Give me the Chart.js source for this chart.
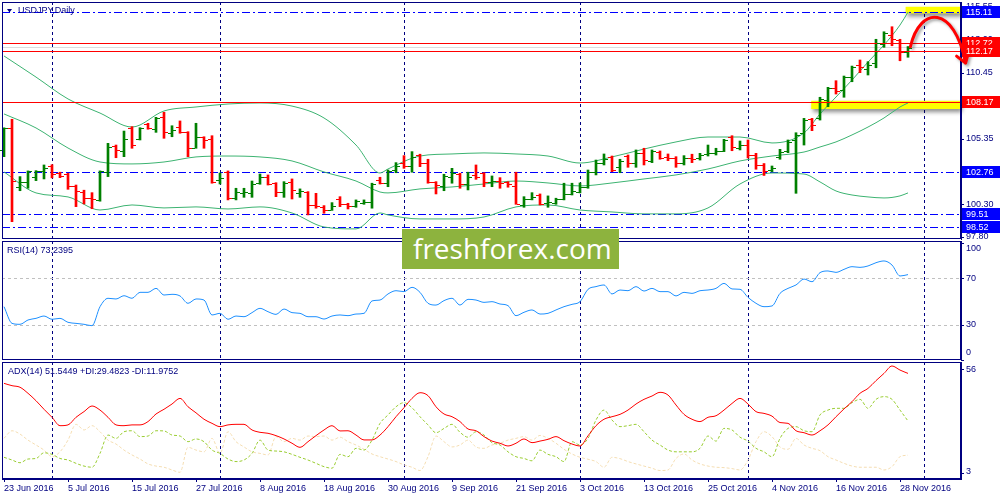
<html>
<head>
<meta charset="utf-8">
<script src="https://cdn.jsdelivr.net/npm/chart.js@4.4.1/dist/chart.umd.min.js"></script>
<style>
  html, body { margin: 0; padding: 0; background: #fff; }
  #wrap { position: relative; width: 1000px; height: 500px; overflow: hidden; }
  #wrap canvas { position: absolute; left: 0; }
  #logo { position: absolute; left: 402px; top: 229px; width: 217px; height: 40px; background: #8db33e;
          color: #fff; font: 28px "Open Sans", sans-serif; line-height: 38px; padding-left: 11px; box-sizing: border-box; }
</style>
</head>
<body>
<div id="wrap">
  <canvas id="price" width="1000" height="240" style="top:0"></canvas>
  <canvas id="rsi" width="1000" height="122" style="top:240px"></canvas>
  <canvas id="adx" width="1000" height="139" style="top:361px"></canvas>
  <div id="logo">freshforex.com</div>
</div>
<script>
// daily bars 23 Jun 2016 .. 29 Nov 2016, x = bar number
const labelIdx = [0, 8, 16, 24, 32, 40, 48, 56, 64, 72, 80, 88, 96, 104, 112];
const dateLabels = ['23 Jun 2016', '5 Jul 2016', '15 Jul 2016', '27 Jul 2016', '8 Aug 2016', '18 Aug 2016',
  '30 Aug 2016', '9 Sep 2016', '21 Sep 2016', '3 Oct 2016', '13 Oct 2016', '25 Oct 2016', '4 Nov 2016',
  '16 Nov 2016', '28 Nov 2016'];
const monthStarts = [6, 27, 50, 72, 93, 115];

const opens = [104.49,106.16,101.61,102.04,102.43,102.87,103.28,102.71,102.63,101.73,
  101.27,100.78,100.60,102.79,104.80,104.43,106.21,105.31,106.50,106.11,
  107.01,105.82,106.29,105.85,104.66,105.47,105.31,102.17,102.81,100.78,
  101.19,101.14,101.92,102.43,101.92,101.22,101.99,101.14,101.22,100.22,
  100.11,99.85,100.68,100.29,100.16,100.37,100.50,102.17,101.92,102.94,
  103.46,103.28,104.10,103.46,101.99,101.73,102.43,102.61,101.84,102.56,
  102.69,101.99,102.09,101.99,101.71,100.24,100.68,101.01,100.37,100.37,
  100.68,101.07,101.27,101.61,102.81,103.51,103.97,103.20,104.02,103.51,
  104.23,103.66,104.36,103.97,103.89,103.51,103.85,103.85,104.16,104.23,
  104.43,105.47,104.64,104.87,104.10,103.33,102.94,103.97,104.43,105.26,
  105.78,106.86,106.93,108.35,109.25,109.12,110.15,111.05,110.74,111.23,
  112.67,113.37,112.98,112.03];
const highs = [106.20,106.86,102.43,102.87,102.89,103.33,103.35,102.77,102.69,101.78,
  101.38,101.19,102.87,105.00,104.87,105.95,106.29,106.21,106.55,107.01,
  107.40,106.36,106.73,105.90,106.55,105.51,105.59,102.71,102.87,101.53,
  101.53,102.09,102.63,102.56,101.96,102.04,102.25,101.48,101.27,101.14,
  100.19,100.42,100.88,100.37,100.63,100.63,101.92,102.38,102.94,103.51,
  104.05,104.36,104.16,103.77,102.04,102.61,103.07,102.69,102.77,103.33,
  102.73,102.48,102.35,102.04,102.77,100.88,101.19,101.09,100.94,100.76,
  101.92,101.92,101.94,102.94,103.71,104.18,104.02,103.77,104.10,104.49,
  104.62,104.49,104.41,104.18,103.97,104.05,104.16,104.23,104.87,104.62,
  105.31,105.59,105.18,105.26,104.23,103.44,103.25,104.54,105.26,105.82,
  106.93,106.93,108.56,109.33,109.84,110.20,110.97,111.44,111.31,113.04,
  113.62,114.01,113.04,112.48];
const lows = [103.97,98.95,101.34,101.53,102.12,102.25,102.33,102.35,101.45,100.11,
  100.32,99.95,100.53,102.43,103.89,103.97,104.62,105.26,106.09,105.85,
  105.39,105.51,105.78,103.97,104.62,104.62,101.92,101.86,100.63,100.63,
  100.83,100.83,101.84,101.78,100.88,100.83,100.70,100.83,99.47,99.99,
  99.60,99.82,100.11,99.93,100.06,100.29,99.99,101.86,101.65,102.73,
  103.07,102.77,103.20,101.92,101.09,101.34,101.92,101.53,101.40,102.22,
  101.65,101.65,101.53,101.61,100.29,100.06,100.63,100.24,100.06,100.29,
  100.63,101.01,101.17,101.53,102.56,103.33,102.81,102.73,103.15,103.15,
  103.33,103.51,103.77,103.66,103.15,103.33,103.51,103.71,104.02,104.10,
  104.36,104.43,104.49,103.87,103.00,102.52,102.81,103.77,104.28,101.14,
  104.87,105.98,106.80,107.83,108.81,108.56,109.76,110.46,110.28,110.84,
  112.42,112.54,111.38,111.65];
const closes = [106.16,102.12,102.04,102.87,102.87,103.12,102.63,102.48,101.68,101.30,
  100.76,100.73,102.84,104.74,104.49,105.31,104.85,106.16,106.16,106.93,
  105.85,106.03,105.85,104.66,105.47,105.26,102.04,102.33,100.80,101.24,
  101.24,101.84,102.38,101.84,101.22,101.96,101.40,101.32,100.24,100.16,
  99.85,100.19,100.29,100.16,100.55,100.50,101.86,101.96,102.89,103.28,
  103.28,103.97,103.46,101.99,101.78,102.50,102.69,101.84,102.43,102.43,
  101.99,102.12,101.92,101.84,100.32,100.70,100.88,100.29,100.45,100.68,
  101.07,101.32,101.63,102.81,103.51,103.79,102.94,103.64,103.51,104.23,
  103.71,104.41,103.85,103.85,103.46,103.85,103.79,104.10,104.23,104.43,
  105.26,104.70,104.87,104.10,103.33,102.90,103.07,104.36,105.13,105.65,
  106.80,106.42,108.40,109.25,109.07,110.10,110.92,110.92,111.05,112.73,
  113.50,113.06,112.03,112.40];

// Bollinger bands read at these bars
const bandIdx = [0,4,8,12,16,20,24,28,32,36,40,44,47,48,52,56,60,64,68,72,76,80,84,88,92,96,100,102,104,106,108,110,112,113];
const bandUpper = [111.75,110.12,108.43,107.34,106.26,107.50,107.81,108.04,108.12,107.88,106.96,104.87,102.71,103.02,104.02,104.18,104.26,
  104.18,104.02,103.48,103.95,104.56,105.11,105.49,105.49,105.03,105.80,107.27,108.58,109.89,111.28,112.60,114.14,115.14];
const bandMiddle = [107.27,106.19,104.64,103.56,103.41,103.56,103.95,104.02,103.95,103.64,102.79,102.09,101.24,101.17,101.48,101.63,101.86,
  102.09,101.94,101.71,101.94,102.25,102.56,103.02,103.64,104.02,104.33,104.72,105.11,105.65,106.26,106.96,107.81,108.12];
const bandLower = [102.79,101.17,100.86,99.85,100.24,100.01,100.09,99.93,100.09,99.62,98.54,98.39,99.62,99.47,99.16,99.16,99.31,
  100.09,100.24,99.85,99.70,99.55,99.55,100.01,101.86,102.71,102.63,102.02,101.32,101.01,100.86,100.78,100.94,101.17];

const blueLevels = [115.11, 102.76, 99.51, 98.52];
const redLevels = [112.72, 112.17, 108.17];
const bidPrice = 112.44;
const priceTicks = [97.80, 100.30, 102.85, 105.35, 107.90, 110.45, 113.00, 115.55];
// highlighted zones: bar from/to, price top/bottom
const zoneFrom = [100.9, 112.7];
const zoneTo = [120, 120];
const zoneTop = [108.29, 115.55];
const zoneBottom = [107.65, 115.04];
// hand drawn arrow: start, two control points, end (bar, price)
const arrowBars = [113.3, 114.5, 118.8, 120.2];
const arrowPrices = [112.46, 115.68, 115.68, 111.20];

const rsi = [45.7,31.4,30.6,34.3,35.7,37.7,34.9,35.7,32.3,31.4,
  30.6,29.4,45.7,52.9,52.3,55.1,52.9,58.0,58.0,61.4,
  55.7,56.3,54.9,48.6,52.3,51.4,38.6,40.0,34.9,37.7,
  37.1,40.6,44.3,41.4,39.1,43.7,40.6,40.0,37.1,37.1,
  35.1,37.7,38.6,38.0,39.4,40.0,50.6,51.4,56.6,59.4,
  58.6,62.3,58.0,48.6,47.1,50.9,52.9,47.1,52.0,51.4,
  49.4,50.0,48.0,46.6,38.0,40.9,42.9,39.4,40.0,42.9,
  45.7,47.7,50.0,60.6,62.9,64.3,56.6,60.0,59.4,62.9,
  59.1,61.4,58.6,58.6,54.9,58.0,57.1,59.4,60.0,61.4,
  65.7,60.9,60.6,53.7,48.6,45.7,46.3,57.1,61.4,64.3,
  69.4,67.1,74.9,76.3,75.1,77.7,80.0,79.4,80.6,83.4,
  84.9,81.4,72.0,73.2];
const rsiTicks = [100, 70, 30, 0];
const rsiLevels = [70, 30];

const adx = [48.8,47.6,46.8,43.7,39.9,35.5,31.4,27.1,27.5,31.4,
  34.3,37.2,35.1,31.4,27.5,27.1,27.5,27.5,29.2,33.1,
  35.5,38.2,41.1,36.8,33.7,30.4,28.3,26.6,27.5,27.8,
  27.8,24.9,23.7,23.2,22.0,20.3,18.1,16.0,18.9,22.0,
  24.9,27.1,24.4,24.5,22.3,19.8,19.8,22.3,26.6,31.7,
  36.3,41.1,44.0,42.5,36.8,33.1,31.7,29.2,25.4,24.5,
  21.5,19.2,18.1,16.7,18.1,20.3,18.4,19.2,20.1,21.5,
  19.4,17.7,16.7,21.9,27.1,30.4,31.7,32.9,35.1,38.2,
  40.6,42.3,44.2,42.8,37.7,32.9,30.4,29.2,31.4,32.2,
  35.1,38.5,41.1,38.2,34.3,33.4,32.0,28.7,28.3,24.5,
  23.5,22.3,24.5,27.5,31.7,35.7,39.4,43.7,46.2,50.2,
  53.9,57.7,55.6,53.9];
const plusDI = [10.9,9.5,8.1,10.0,10.3,13.2,12.4,10.3,9.5,7.8,
  6.4,5.8,12.9,22.3,20.6,24.0,24.5,21.5,21.8,24.5,
  24.4,22.3,21.8,18.9,20.3,18.9,14.6,12.9,10.0,8.7,
  9.5,12.9,19.7,14.6,14.1,13.7,12.4,10.9,9.5,7.8,
  6.1,5.3,12.4,11.2,15.5,14.6,19.7,28.3,32.6,36.8,
  38.9,36.3,31.7,27.5,23.5,25.7,27.8,23.7,21.2,24.0,
  22.3,18.4,17.2,13.7,11.2,10.3,9.1,14.6,12.4,11.2,
  8.7,18.9,17.2,20.6,30.0,35.1,30.0,26.6,27.1,27.8,
  24.0,19.7,17.2,14.6,13.7,13.7,13.7,15.5,21.8,19.2,
  25.7,24.9,21.2,19.2,15.5,13.7,11.2,20.6,25.7,26.6,
  24.5,24.0,32.6,35.1,36.0,36.0,38.9,40.6,36.0,40.6,
  42.0,40.6,35.1,29.5];
const minusDI = [20.6,24.5,22.8,19.7,17.2,14.6,11.2,13.7,19.7,27.8,
  24.9,27.1,24.0,19.7,17.7,14.6,12.1,10.0,7.5,6.4,
  5.8,4.4,3.2,16.0,14.6,13.7,20.6,12.9,24.0,18.9,
  16.2,13.7,12.9,12.1,21.5,18.9,20.6,19.7,21.8,21.5,
  21.8,19.7,21.2,18.9,17.2,15.0,12.6,11.2,10.0,8.7,
  7.0,5.8,4.1,11.2,21.8,18.9,16.2,17.2,19.7,16.2,
  15.5,17.2,18.1,19.7,20.6,21.5,19.7,22.1,20.6,18.1,
  15.0,12.6,10.9,9.9,8.7,5.8,10.9,10.2,8.7,7.5,
  6.4,5.3,4.1,4.4,10.3,12.6,9.5,7.5,6.4,5.8,
  5.6,5.1,4.4,9.5,18.9,24.0,21.5,16.2,15.0,20.6,
  17.2,15.5,14.3,11.2,9.5,7.8,6.4,5.8,5.8,5.8,
  4.4,6.1,11.2,12.0];
const adxTicks = [56, 3];

const NAVY = '#000080';
const UP = '#008000';
const DOWN = '#FF0000';
const BAND = '#3CB371';
const FONT = '9px "Liberation Sans", Arial, sans-serif';
const XMIN = -0.25, XMAX = 119.625;

const bars = closes.map((_, i) => i);

function vDashed(chart, idx) {
  const { ctx, chartArea: a, scales: { x } } = chart;
  ctx.save();
  ctx.strokeStyle = NAVY;
  ctx.lineWidth = 1;
  ctx.setLineDash([3, 3]);
  idx.forEach(v => {
    const px = Math.round(x.getPixelForValue(v)) + 0.5;
    ctx.beginPath();
    ctx.moveTo(px, a.top);
    ctx.lineTo(px, a.bottom);
    ctx.stroke();
  });
  ctx.restore();
}

// solid lines are filled as 1px rows, dashed ones stroked
function hLine(chart, value, color, dash) {
  const { ctx, chartArea: a, scales: { y } } = chart;
  const row = Math.round(y.getPixelForValue(value));
  ctx.save();
  if (!dash.length) {
    ctx.fillStyle = color;
    ctx.fillRect(a.left, row, a.right - a.left, 1);
  } else {
    ctx.strokeStyle = color;
    ctx.lineWidth = 1;
    ctx.setLineDash(dash);
    ctx.beginPath();
    ctx.moveTo(a.left, row + 0.5);
    ctx.lineTo(a.right, row + 0.5);
    ctx.stroke();
  }
  ctx.restore();
}

function frame(chart) {
  const { ctx, chartArea: a } = chart;
  ctx.save();
  ctx.strokeStyle = NAVY;
  ctx.lineWidth = 1;
  ctx.strokeRect(a.left + 0.5, a.top + 0.5, a.right - a.left - 1, a.bottom - a.top - 1);
  ctx.restore();
}

function title(chart, text, px, py) {
  const { ctx } = chart;
  ctx.save();
  ctx.font = FONT;
  ctx.fillStyle = NAVY;
  ctx.textBaseline = 'middle';
  ctx.fillText(text, px, py);
  ctx.restore();
}

// right axis labels; indicator windows keep them inside the panel
function sideLabels(chart, values, fmt, keepInside) {
  const { ctx, chartArea: a, scales: { y } } = chart;
  ctx.save();
  ctx.font = FONT;
  ctx.fillStyle = NAVY;
  ctx.textBaseline = 'middle';
  values.forEach(v => {
    const py = y.getPixelForValue(v);
    ctx.fillRect(a.right, Math.round(py), 3, 1);
    const ty = keepInside ? Math.min(Math.max(py, a.top + 8), a.bottom - 7) : py;
    ctx.fillText(fmt(v), a.right + 5, ty);
  });
  ctx.restore();
}

function boxLabel(chart, value, bg) {
  const { ctx, chartArea: a, scales: { y } } = chart;
  const py = Math.round(y.getPixelForValue(value));
  ctx.save();
  ctx.fillStyle = bg;
  ctx.fillRect(a.right + 1, py - 6, 39, 12);
  ctx.font = FONT;
  ctx.fillStyle = '#fff';
  ctx.textBaseline = 'middle';
  ctx.fillText(value.toFixed(2), a.right + 5, py + 0.5);
  ctx.restore();
}

const pricePlugin = {
  id: 'pricePlugin',
  beforeDatasetsDraw(chart) {
    const { ctx, chartArea: a, scales: { x, y } } = chart;
    vDashed(chart, monthStarts);
    zoneFrom.forEach((f, k) => {
      const x0 = x.getPixelForValue(f);
      const x1 = Math.min(a.right - 1, x.getPixelForValue(zoneTo[k]));
      const y0 = y.getPixelForValue(zoneTop[k]);
      const y1 = y.getPixelForValue(zoneBottom[k]);
      ctx.save();
      ctx.shadowColor = 'rgba(0,0,0,0.45)';
      ctx.shadowBlur = 4;
      ctx.shadowOffsetX = 2;
      ctx.shadowOffsetY = 3;
      ctx.fillStyle = '#FFFF00';
      ctx.fillRect(x0, y0, x1 - x0, y1 - y0);
      ctx.restore();
    });
    hLine(chart, bidPrice, '#DCDCDC', []);
    blueLevels.forEach(v => hLine(chart, v, '#0000FF', [8, 3, 2, 3]));
  },
  afterDatasetsDraw(chart) {
    const { ctx, scales: { x, y } } = chart;
    redLevels.forEach(v => hLine(chart, v, '#FF0000', []));
    ctx.save();
    bars.forEach(i => {
      const px = Math.round(x.getPixelForValue(i));
      ctx.fillStyle = closes[i] >= opens[i] ? UP : DOWN;
      ctx.fillRect(px - 4, Math.round(y.getPixelForValue(opens[i])), 3, 1);
      ctx.fillRect(px + 1, Math.round(y.getPixelForValue(closes[i])), 3, 1);
    });
    ctx.restore();
  },
  afterDraw(chart) {
    const { ctx, scales: { x, y } } = chart;
    frame(chart);
    sideLabels(chart, priceTicks, v => v.toFixed(2), false);
    // arrow
    const p = arrowBars.map((b, k) => [x.getPixelForValue(b), y.getPixelForValue(arrowPrices[k])]);
    ctx.save();
    ctx.shadowColor = 'rgba(0,0,0,0.35)';
    ctx.shadowBlur = 3;
    ctx.shadowOffsetX = 2;
    ctx.shadowOffsetY = 2;
    ctx.strokeStyle = '#FF0000';
    ctx.lineWidth = 3;
    ctx.lineCap = 'round';
    ctx.lineJoin = 'round';
    ctx.beginPath();
    ctx.moveTo(p[0][0], p[0][1]);
    ctx.bezierCurveTo(p[1][0], p[1][1], p[2][0], p[2][1], p[3][0], p[3][1]);
    ctx.moveTo(p[3][0] - 9, p[3][1] - 7);
    ctx.lineTo(p[3][0], p[3][1]);
    ctx.lineTo(p[3][0] + 3, p[3][1] - 11);
    ctx.stroke();
    ctx.restore();
    blueLevels.forEach(v => boxLabel(chart, v, '#0000FF'));
    redLevels.forEach(v => boxLabel(chart, v, '#FF0000'));
    // symbol caption
    ctx.save();
    ctx.fillStyle = NAVY;
    ctx.beginPath();
    ctx.moveTo(7, 9); ctx.lineTo(12, 9); ctx.lineTo(9.5, 12.5); ctx.closePath();
    ctx.fill();
    ctx.restore();
    title(chart, 'USDJPY,Daily', 18, 11);
  }
};

const rsiPlugin = {
  id: 'rsiPlugin',
  beforeDatasetsDraw(chart) {
    vDashed(chart, monthStarts);
    rsiLevels.forEach(v => hLine(chart, v, '#C0C0C0', [3, 3]));
  },
  afterDraw(chart) {
    frame(chart);
    sideLabels(chart, rsiTicks, v => String(v), true);
    title(chart, 'RSI(14) 73.2395', 7, chart.chartArea.top + 10);
  }
};

const adxPlugin = {
  id: 'adxPlugin',
  beforeDatasetsDraw(chart) {
    vDashed(chart, monthStarts);
  },
  afterDraw(chart) {
    frame(chart);
    sideLabels(chart, adxTicks, v => String(v), true);
    title(chart, 'ADX(14) 51.5449 +DI:29.4823 -DI:11.9752', 8, chart.chartArea.top + 10);
  }
};

const hiddenX = { type: 'linear', min: XMIN, max: XMAX, display: false };
const fixedWidth = s => { s.width = 39; };
const quietY = { ticks: { display: false }, grid: { display: false }, border: { color: NAVY } };
const baseOpts = {
  responsive: false,
  animation: false,
  events: [],
  plugins: { legend: { display: false }, tooltip: { enabled: false } }
};
const line = (data, color, width, dash) => ({
  type: 'line', data, borderColor: color, borderWidth: width, borderDash: dash || [],
  pointRadius: 0, fill: false, cubicInterpolationMode: 'monotone'
});

new Chart(document.getElementById('price'), {
  type: 'line',
  data: {
    datasets: [
      {
        type: 'bar',
        data: bars.map(i => ({ x: i, y: [lows[i], highs[i]] })),
        backgroundColor: bars.map(i => closes[i] >= opens[i] ? UP : DOWN),
        barThickness: 2,
        borderWidth: 0
      },
      line(bandIdx.map((b, k) => ({ x: b, y: bandUpper[k] })), BAND, 1),
      line(bandIdx.map((b, k) => ({ x: b, y: bandMiddle[k] })), BAND, 1),
      line(bandIdx.map((b, k) => ({ x: b, y: bandLower[k] })), BAND, 1)
    ]
  },
  options: {
    ...baseOpts,
    layout: { padding: { left: 2, top: 2, bottom: 1, right: 0 } },
    scales: {
      x: { ...hiddenX, offset: false },
      y: { position: 'right', min: 97.61, max: 115.92, afterFit: fixedWidth, ...quietY }
    }
  },
  plugins: [pricePlugin]
});

new Chart(document.getElementById('rsi'), {
  type: 'line',
  data: { datasets: [line(bars.map(i => ({ x: i, y: rsi[i] })), '#1E90FF', 1)] },
  options: {
    ...baseOpts,
    layout: { padding: { left: 2, top: 1, bottom: 2, right: 0 } },
    scales: {
      x: hiddenX,
      y: { position: 'right', min: 0, max: 102, afterFit: fixedWidth, ...quietY }
    }
  },
  plugins: [rsiPlugin]
});

new Chart(document.getElementById('adx'), {
  type: 'line',
  data: {
    datasets: [
      line(bars.map(i => ({ x: i, y: adx[i] })), '#FF0000', 1),
      line(bars.map(i => ({ x: i, y: plusDI[i] })), '#9ACD32', 1, [3, 2]),
      line(bars.map(i => ({ x: i, y: minusDI[i] })), '#F5DEB3', 1, [3, 2])
    ]
  },
  options: {
    ...baseOpts,
    layout: { padding: { left: 2, top: 1, bottom: 0, right: 0 } },
    scales: {
      x: {
        type: 'linear', min: XMIN, max: XMAX,
        afterFit: s => { s.height = 21; },
        afterBuildTicks: s => { s.ticks = labelIdx.map(v => ({ value: v })); },
        ticks: { color: NAVY, font: { family: 'Liberation Sans', size: 9 }, align: 'start', padding: 1,
                 autoSkip: false, maxRotation: 0, callback: v => dateLabels[labelIdx.indexOf(v)] },
        grid: { drawOnChartArea: false, drawTicks: true, tickLength: 3, color: NAVY },
        border: { color: NAVY }
      },
      y: { position: 'right', min: -0.23, max: 59.74, afterFit: fixedWidth, ...quietY }
    }
  },
  plugins: [adxPlugin]
});
</script>
</body>
</html>
